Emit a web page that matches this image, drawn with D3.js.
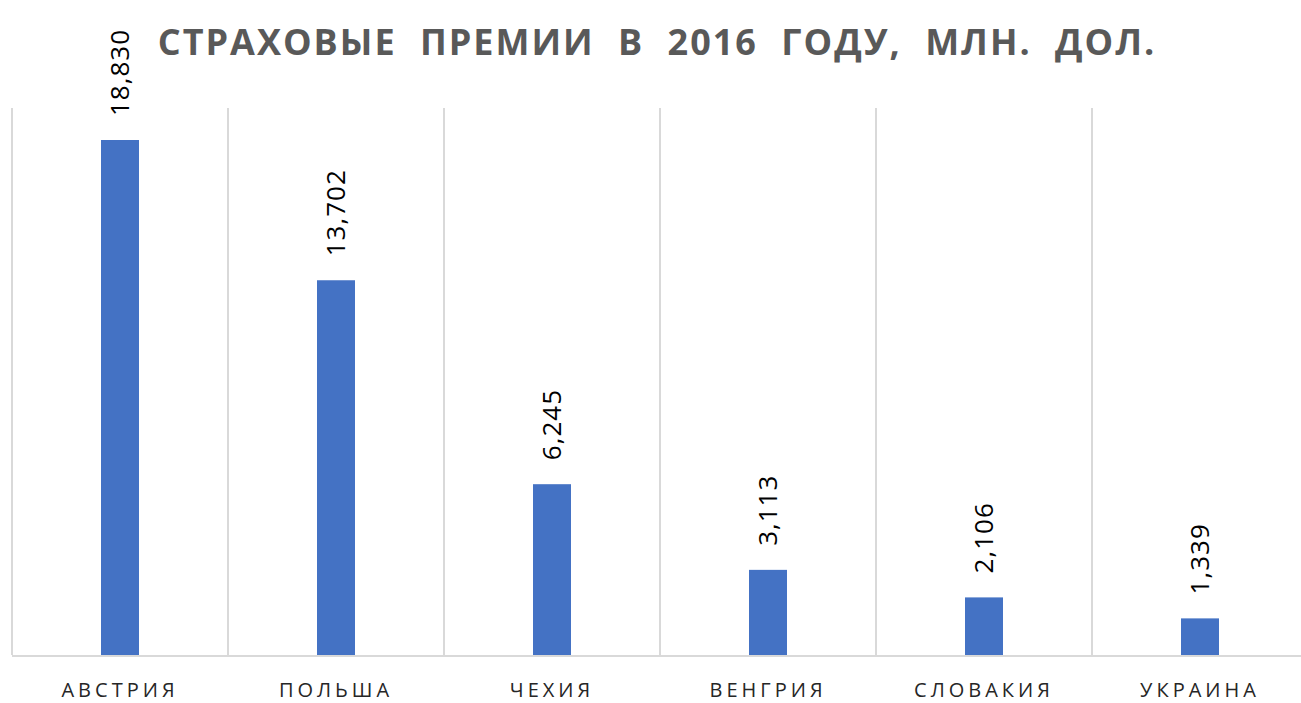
<!DOCTYPE html>
<html><head><meta charset="utf-8">
<script src="https://cdn.jsdelivr.net/npm/d3@7"></script>
<style>body{margin:0;background:#fff}svg{display:block}</style>
</head><body>
<svg id="c" width="1301" height="703"></svg>
<script>
const categories = ["АВСТРИЯ","ПОЛЬША","ЧЕХИЯ","ВЕНГРИЯ","СЛОВАКИЯ","УКРАИНА"];
const values = [18830, 13702, 6245, 3113, 2106, 1339];
const labels = ["18,830","13,702","6,245","3,113","2,106","1,339"];
const title = "СТРАХОВЫЕ ПРЕМИИ В 2016 ГОДУ, МЛН. ДОЛ.";

(function(){
const svg = d3.select("#c");
const pl = 12, pr = 1308, pt = 108, pb = 655;
const x = d3.scaleBand().domain(categories).range([pl, pr]).paddingInner(0).paddingOuter(0);
const y = d3.scaleLinear().domain([0, 20000]).range([pb, pt]);

const bounds = categories.map(c => x(c));
svg.append("g").selectAll("line").data(bounds).join("line")
  .attr("x1", d => d).attr("x2", d => d).attr("y1", pt).attr("y2", pb)
  .attr("stroke", "#d9d9d9").attr("stroke-width", 2);

const bw = 38;
svg.append("g").selectAll("rect").data(values).join("rect")
  .attr("x", (d,i) => x(categories[i]) + x.bandwidth()/2 - bw/2)
  .attr("width", bw)
  .attr("y", d => y(d))
  .attr("height", d => pb - y(d))
  .attr("fill", "#4472c4");

svg.append("line").attr("x1", pl).attr("x2", 1301).attr("y1", pb + 1).attr("y2", pb + 1)
  .attr("stroke", "#d9d9d9").attr("stroke-width", 2);

svg.append("g").selectAll("text").data(values).join("text")
  .attr("transform", (d,i) => `translate(${x(categories[i]) + x.bandwidth()/2 + 9},${y(d) - 24}) rotate(-90)`)
  .attr("text-anchor", "start")
  .attr("font-family", "Open Sans, sans-serif").attr("font-size", 26)
  .attr("letter-spacing", 1)
  .attr("fill", "#000")
  .text((d,i) => labels[i]);

svg.append("g").selectAll("text").data(categories).join("text")
  .attr("x", d => x(d) + x.bandwidth()/2)
  .attr("y", 697)
  .attr("text-anchor", "middle")
  .attr("font-family", "Open Sans, sans-serif").attr("font-size", 20)
  .attr("letter-spacing", 4)
  .attr("fill", "#262626")
  .text(d => d);

svg.append("text").attr("x", 657).attr("y", 55)
  .attr("text-anchor", "middle")
  .attr("font-family", "Open Sans, sans-serif").attr("font-weight", "bold").attr("font-size", 36)
  .attr("letter-spacing", 2)
  .attr("word-spacing", 12)
  .attr("fill", "#595959")
  .text(title);
})();
</script>
</body></html>
